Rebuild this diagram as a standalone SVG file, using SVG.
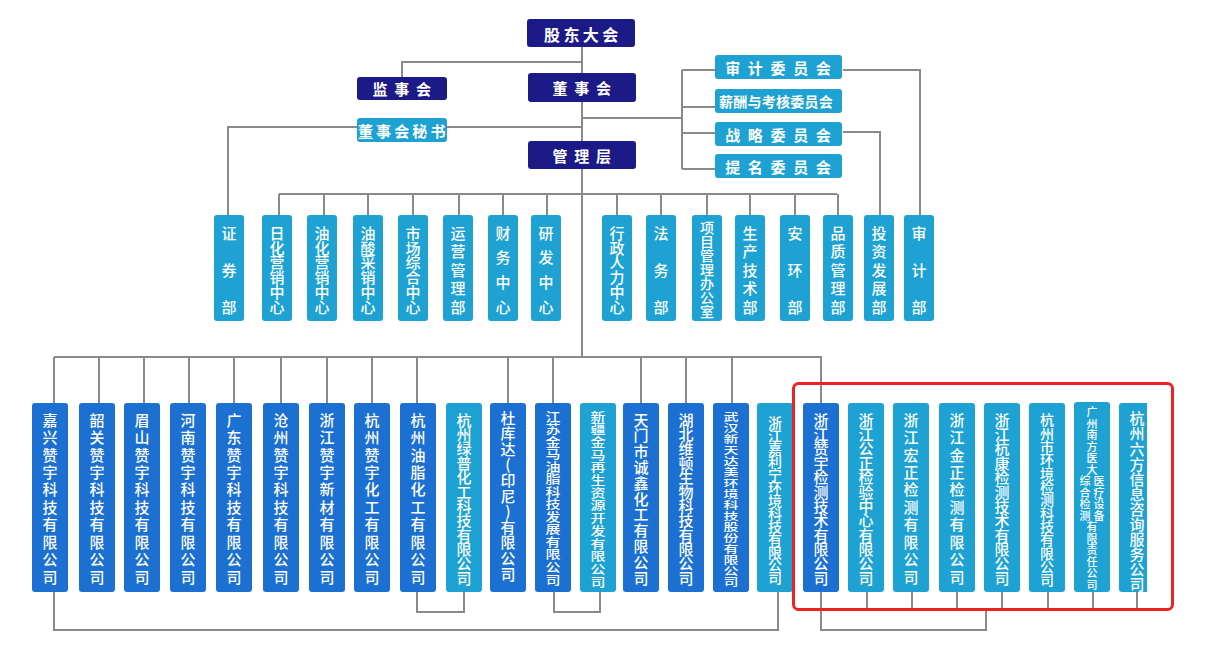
<svg xmlns="http://www.w3.org/2000/svg" width="1214" height="660" viewBox="0 0 1214 660">
<style>
.nv{fill:#1b1a87}
.lb{fill:#1ea2d3}
.db{fill:#1c70d2}
.t{font-family:"Noto Sans CJK SC","Noto Sans CJK JP",sans-serif;fill:#fff}
.h{font-size:15px;font-weight:bold;dominant-baseline:central}
.vt{writing-mode:vertical-rl;text-orientation:upright;font-size:15px;font-weight:500}
.v14{font-size:14px}
.sm{font-size:11px}
.ln{stroke:#8a8a8a;stroke-width:2;fill:none}
</style>
<rect width="1214" height="660" fill="#fff"/>
<g id="connectors" class="ln">
<path d="M582,47V73M402,77V62H582"/>
<path d="M582,102V141M582,118H682M682,70V169M682,70H715M682,107H715M682,133H715M682,169H715"/>
<path d="M228,215V127H582"/>
<path d="M843,132H880V215M843,70H920V215"/>
<path d="M582,169V357"/>
<path d="M279,194H837M279,194V215M324,194V215M368,194V215M413,194V215M459,194V215M503,194V215M547,194V215M617,194V215M661,194V215M707,194V215M750,194V215M795,194V215M838,194V215"/>
<path d="M54,357H821V403M54,357V403M99,357V403M144,357V403M189,357V403M234,357V403M281,357V403M327,357V403M372,357V403M417,357V403M508,357V403M553,357V403M641,357V403M686,357V403M732,357V403"/>
<path d="M54,592V630H778V592"/>
<path d="M417,592V612H464V592M554,592V612H600V592"/>
<path d="M821,592V630H986V609M821,609H1137M867,592V609M912,592V609M957,592V609M1002,592V609M1048,592V609M1093,592V609M1137,592V609"/>
</g>
<g id="n-gd"><rect class="nv" x="527" y="19" width="108" height="28" rx="3"/><text class="t h" style="font-size:16px;letter-spacing:3.4px" x="544" y="33.5">股东大会</text></g>
<g id="n-jsh"><rect class="nv" x="357" y="77" width="90" height="23" rx="3"/><text class="t h" style="letter-spacing:6.7px" x="372.5" y="88.5">监事会</text></g>
<g id="n-dsh"><rect class="nv" x="528" y="73" width="108" height="29" rx="3"/><text class="t h" style="letter-spacing:6.75px" x="552.5" y="87.5">董事会</text></g>
<g id="n-ms"><rect class="lb" x="357" y="118" width="90" height="24" rx="3"/><text class="t h" style="letter-spacing:3.1px" x="358" y="130">董事会秘书</text></g>
<g id="n-glc"><rect class="nv" x="528" y="141" width="108" height="28" rx="3"/><text class="t h" style="letter-spacing:6.75px" x="552.5" y="155">管理层</text></g>
<g id="n-sj"><rect class="lb" x="715" y="55" width="127" height="24" rx="3"/><text class="t h" style="letter-spacing:7.65px" x="725.2" y="67">审计委员会</text></g>
<g id="n-xc"><rect class="lb" x="715" y="89" width="127" height="24" rx="3"/><text class="t h" style="font-size:14px;letter-spacing:0.24px" x="719" y="101">薪酬与考核委员会</text></g>
<g id="n-zl"><rect class="lb" x="715" y="122" width="127" height="24" rx="3"/><text class="t h" style="letter-spacing:7.65px" x="725.2" y="134">战略委员会</text></g>
<g id="n-tm"><rect class="lb" x="715" y="154" width="127" height="24" rx="3"/><text class="t h" style="letter-spacing:7.65px" x="725.2" y="166">提名委员会</text></g>
<g id="d1"><rect class="lb" x="214" y="215" width="30" height="106" rx="3"/><text class="t vt" style="letter-spacing:22px" x="229" y="225.5">证券部</text></g>
<g id="d2"><rect class="lb" x="262" y="215" width="30" height="106" rx="3"/><text class="t vt" style="letter-spacing:-0.2px" x="277" y="225.5">日化营销中心</text></g>
<g id="d3"><rect class="lb" x="307" y="215" width="30" height="106" rx="3"/><text class="t vt" style="letter-spacing:-0.2px" x="322" y="225.5">油化营销中心</text></g>
<g id="d4"><rect class="lb" x="353" y="215" width="30" height="106" rx="3"/><text class="t vt" style="letter-spacing:-0.2px" x="368" y="225.5">油酸采销中心</text></g>
<g id="d5"><rect class="lb" x="398" y="215" width="30" height="106" rx="3"/><text class="t vt" style="letter-spacing:-0.2px" x="413" y="225.5">市场综合中心</text></g>
<g id="d6"><rect class="lb" x="443" y="215" width="30" height="106" rx="3"/><text class="t vt" style="letter-spacing:3.5px" x="458" y="225.5">运营管理部</text></g>
<g id="d7"><rect class="lb" x="488" y="215" width="30" height="106" rx="3"/><text class="t vt" style="letter-spacing:9.67px" x="503" y="225.5">财务中心</text></g>
<g id="d8"><rect class="lb" x="531" y="215" width="30" height="106" rx="3"/><text class="t vt" style="letter-spacing:9.67px" x="546" y="225.5">研发中心</text></g>
<g id="d9"><rect class="lb" x="602" y="215" width="30" height="106" rx="3"/><text class="t vt" style="letter-spacing:-0.2px" x="617" y="225.5">行政人力中心</text></g>
<g id="d10"><rect class="lb" x="646" y="215" width="30" height="106" rx="3"/><text class="t vt" style="letter-spacing:22px" x="661" y="225.5">法务部</text></g>
<g id="d11"><rect class="lb" x="692" y="215" width="30" height="106" rx="3"/><text class="t vt v14" x="707" y="221">项目管理办公室</text></g>
<g id="d12"><rect class="lb" x="735" y="215" width="30" height="106" rx="3"/><text class="t vt" style="letter-spacing:3.5px" x="750" y="225.5">生产技术部</text></g>
<g id="d13"><rect class="lb" x="780" y="215" width="30" height="106" rx="3"/><text class="t vt" style="letter-spacing:22px" x="795" y="225.5">安环部</text></g>
<g id="d14"><rect class="lb" x="823" y="215" width="30" height="106" rx="3"/><text class="t vt" style="letter-spacing:3.5px" x="838" y="225.5">品质管理部</text></g>
<g id="d15"><rect class="lb" x="864" y="215" width="30" height="106" rx="3"/><text class="t vt" style="letter-spacing:3.5px" x="879" y="225.5">投资发展部</text></g>
<g id="d16"><rect class="lb" x="904" y="215" width="30" height="106" rx="3"/><text class="t vt" style="letter-spacing:22px" x="919" y="225.5">审计部</text></g>
<g id="s1"><rect class="db" x="32" y="403" width="36" height="189" rx="3"/><text class="t vt" style="letter-spacing:2.44px" x="50" y="412.5">嘉兴赞宇科技有限公司</text></g>
<g id="s2"><rect class="db" x="79" y="403" width="36" height="189" rx="3"/><text class="t vt" style="letter-spacing:2.44px" x="97" y="412.5">韶关赞宇科技有限公司</text></g>
<g id="s3"><rect class="db" x="124" y="403" width="36" height="189" rx="3"/><text class="t vt" style="letter-spacing:2.44px" x="142" y="412.5">眉山赞宇科技有限公司</text></g>
<g id="s4"><rect class="db" x="170" y="403" width="36" height="189" rx="3"/><text class="t vt" style="letter-spacing:2.44px" x="188" y="412.5">河南赞宇科技有限公司</text></g>
<g id="s5"><rect class="db" x="216" y="403" width="36" height="189" rx="3"/><text class="t vt" style="letter-spacing:2.44px" x="234" y="412.5">广东赞宇科技有限公司</text></g>
<g id="s6"><rect class="db" x="263" y="403" width="36" height="189" rx="3"/><text class="t vt" style="letter-spacing:2.44px" x="281" y="412.5">沧州赞宇科技有限公司</text></g>
<g id="s7"><rect class="db" x="309" y="403" width="36" height="189" rx="3"/><text class="t vt" style="letter-spacing:2.44px" x="327" y="412.5">浙江赞宇新材有限公司</text></g>
<g id="s8"><rect class="db" x="354" y="403" width="36" height="189" rx="3"/><text class="t vt" style="letter-spacing:2.44px" x="372" y="412.5">杭州赞宇化工有限公司</text></g>
<g id="s9"><rect class="db" x="400" y="403" width="36" height="189" rx="3"/><text class="t vt" style="letter-spacing:2.44px" x="418" y="412.5">杭州油脂化工有限公司</text></g>
<g id="s10"><rect class="lb" x="446" y="403" width="36" height="189" rx="3"/><text class="t vt" style="letter-spacing:-0.64px" x="464" y="412.5">杭州绿普化工科技有限公司</text></g>
<g id="s11"><rect class="db" x="490" y="403" width="36" height="189" rx="3"/><text class="t vt" style="letter-spacing:0.6px" x="508" y="410.5">杜库达(印尼)有限公司</text></g>
<g id="s12"><rect class="db" x="535" y="403" width="36" height="189" rx="3"/><text class="t vt" style="letter-spacing:0.29px" transform="translate(553 0) scale(1 0.82)" x="0" y="501">江苏金马油脂科技发展有限公司</text></g>
<g id="s13"><rect class="lb" x="580" y="403" width="36" height="189" rx="3"/><text class="t vt" style="letter-spacing:0.48px" transform="translate(598 0) scale(1 0.82)" x="0" y="501">新疆金马再生资源开发有限公司</text></g>
<g id="s14"><rect class="db" x="623" y="403" width="36" height="189" rx="3"/><text class="t vt" style="letter-spacing:0.8px" x="641" y="412.5">天门市诚鑫化工有限公司</text></g>
<g id="s15"><rect class="db" x="668" y="403" width="36" height="189" rx="3"/><text class="t vt" style="letter-spacing:-0.64px" x="686" y="412.5">湖北维顿生物科技有限公司</text></g>
<g id="s16"><rect class="db" x="713" y="403" width="36" height="189" rx="3"/><text class="t vt" style="letter-spacing:0.28px" transform="translate(731 0) scale(1 0.72)" x="0" y="571.7">武汉新天达美环境科技股份有限公司</text></g>
<g id="s17"><rect class="lb" x="757" y="403" width="36" height="189" rx="3"/><text class="t vt v14" style="letter-spacing:-1.08px" x="775" y="416">浙江嘉利宁环境科技有限公司</text></g>
<g id="s18"><rect class="db" x="803" y="403" width="36" height="189" rx="3"/><text class="t vt" style="letter-spacing:-0.64px" x="821" y="412.5">浙江赞宇检测技术有限公司</text></g>
<g id="s19"><rect class="lb" x="848" y="403" width="36" height="189" rx="3"/><text class="t vt" style="letter-spacing:-0.64px" x="866" y="412.5">浙江公正检验中心有限公司</text></g>
<g id="s20"><rect class="lb" x="893" y="403" width="36" height="189" rx="3"/><text class="t vt" style="letter-spacing:2.44px" x="911" y="412.5">浙江宏正检测有限公司</text></g>
<g id="s21"><rect class="lb" x="939" y="403" width="36" height="189" rx="3"/><text class="t vt" style="letter-spacing:2.44px" x="957" y="412.5">浙江金正检测有限公司</text></g>
<g id="s22"><rect class="lb" x="984" y="403" width="36" height="189" rx="3"/><text class="t vt" style="letter-spacing:-0.64px" x="1002" y="412.5">浙江杭康检测技术有限公司</text></g>
<g id="s23"><rect class="lb" x="1029" y="403" width="36" height="189" rx="3"/><text class="t vt v14" style="letter-spacing:-0.67px" x="1047" y="413">杭州市环境检测科技有限公司</text></g>
<g id="s24"><rect class="lb" x="1074" y="402" width="36" height="190" rx="3"/><text class="t vt sm" style="letter-spacing:0.5px" x="1092" y="406.5">广州南方医大</text><text class="t vt sm" style="letter-spacing:0.5px" x="1099" y="475.5">医疗设备</text><text class="t vt sm" style="letter-spacing:0.5px" x="1085" y="475.5">综合检测</text><text class="t vt sm" style="letter-spacing:0.5px" x="1092" y="521.5">有限责任公司</text></g>
<g id="s25"><path class="lb" d="M1119,406a3,3 0 0 1 3,-3H1147V592H1122a3,3 0 0 1 -3,-3Z"/><text class="t vt" style="letter-spacing:0.09px" x="1137" y="411.2">杭州六方信息咨询服务公司</text></g>
<rect id="highlight" x="793.5" y="383.5" width="379" height="226" rx="5" fill="none" stroke="#ee2222" stroke-width="3"/>
</svg>
